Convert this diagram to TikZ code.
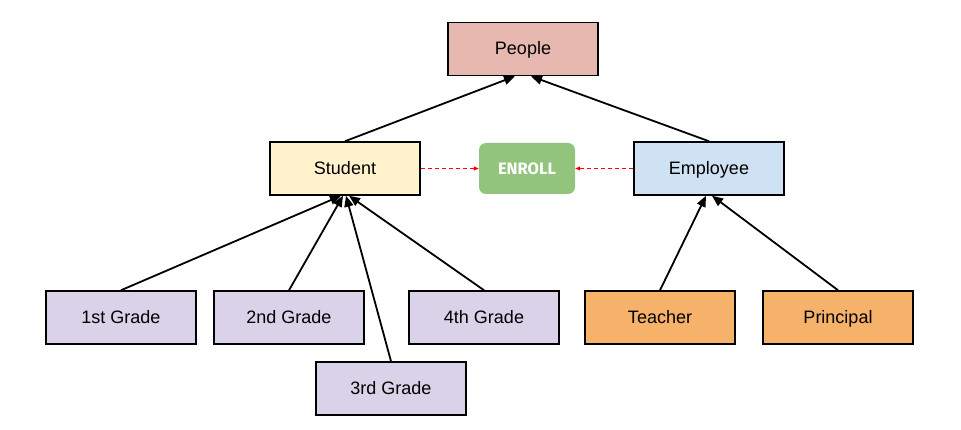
\documentclass[tikz,border=0pt]{standalone}
\usepackage{fontspec}
\setmainfont{Liberation Sans}
\newfontfamily\enrollfont{Fira Sans}
\usetikzlibrary{arrows.meta}
\definecolor{peoplec}{HTML}{E6B8AF}
\definecolor{studentc}{HTML}{FFF2CC}
\definecolor{employeec}{HTML}{CFE2F3}
\definecolor{gradec}{HTML}{D9D2E9}
\definecolor{staffc}{HTML}{F6B26B}
\definecolor{enrollc}{HTML}{93C47D}
\tikzset{
  ent/.style={draw=black, line width=1.5pt, minimum width=150pt, minimum height=53pt, inner sep=0pt, text height=12pt, text depth=-4pt, font=\fontsize{18}{20}\selectfont},
  rel/.style={fill=enrollc, rounded corners=7pt, minimum width=96pt, minimum height=51pt, inner sep=0pt, text=white, text height=12pt, text depth=-3pt, font=\enrollfont\bfseries\fontsize{16.5}{18}\selectfont},
  isa/.style={line width=1.8pt, -{Triangle[length=11pt,width=9pt]}},
  part/.style={red, dashed, dash pattern=on 4pt off 3pt, line width=0.8pt, -{Triangle[length=5pt,width=4pt]}}
}
\begin{document}
\begin{tikzpicture}[x=1pt,y=-1pt]
\useasboundingbox (0,0) rectangle (961,430);
\node[ent, fill=peoplec] (people) at (523,49) {People};
\node[ent, fill=studentc] (student) at (345,168.5) {Student};
\node[ent, fill=employeec] (employee) at (709,168.5) {Employee};
\node[rel] (enroll) at (527,168.5) {ENROLL};
\node[ent, fill=gradec] (g1) at (121,317.5) {1st Grade};
\node[ent, fill=gradec] (g2) at (289,317.5) {2nd Grade};
\node[ent, fill=gradec] (g3) at (391,388.5) {3rd Grade};
\node[ent, fill=gradec] (g4) at (484,317.5) {4th Grade};
\node[ent, fill=staffc] (teacher) at (660,317.5) {Teacher};
\node[ent, fill=staffc] (principal) at (838,317.5) {Principal};
\draw[isa] (student.north) -- ([xshift=-8pt]people.south);
\draw[isa] (employee.north) -- ([xshift=8pt]people.south);
\draw[isa] (g1.north) -- ([xshift=-4pt]student.south);
\draw[isa] (g2.north) -- ([xshift=-2pt]student.south);
\draw[isa] (g3.north) -- ([xshift=1pt]student.south);
\draw[isa] (g4.north) -- ([xshift=4pt]student.south);
\draw[isa] (teacher.north) -- ([xshift=-3pt]employee.south);
\draw[isa] (principal.north) -- ([xshift=3pt]employee.south);
\draw[part] (student.east) -- (enroll.west);
\draw[part] (employee.west) -- (enroll.east);
\end{tikzpicture}
\end{document}
